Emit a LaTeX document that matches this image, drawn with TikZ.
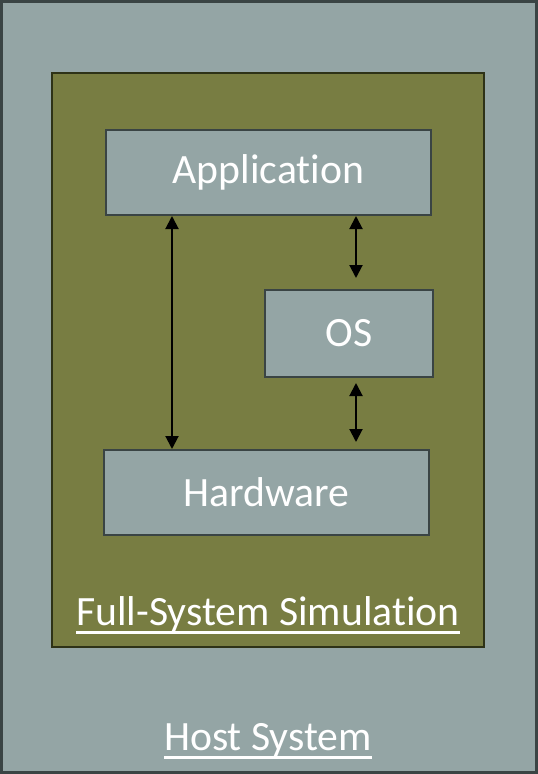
\documentclass[tikz,border=0pt]{standalone}
\usepackage{fontspec}
\setmainfont{Carlito}[Ligatures=NoCommon]
\usetikzlibrary{positioning}
\usetikzlibrary{arrows.meta}
\definecolor{hostgray}{HTML}{94A5A5}
\definecolor{simolive}{HTML}{787D42}
\definecolor{edgegray}{HTML}{3A4444}
\definecolor{edgeolive}{HTML}{2E3217}
\newcommand{\thickul}[1]{\setbox0\hbox{#1}\leavevmode\rlap{\raisebox{-9pt}{\rule{\wd0}{3pt}}}\box0}

\begin{document}
\begin{tikzpicture}[x=1pt, y=-1pt,
        layer/.style={draw=edgegray, line width=2pt, fill=hostgray, text=white,
                      minimum width=325pt, minimum height=85pt, inner sep=0pt,
                      font=\fontsize{41.7}{50}\selectfont},
        caption/.style={text=white, anchor=base, inner sep=0pt,
                        font=\fontsize{41.7}{50}\selectfont},
        link/.style={{Triangle[width=13pt,length=13pt]}-{Triangle[width=13pt,length=13pt]},
                     line width=2pt, black}]
    \useasboundingbox (0,0) rectangle (538,774);
    \node[draw=edgegray, line width=3pt, fill=hostgray, inner sep=0pt,
          minimum width=535pt, minimum height=771pt] (host) at (269,387) {};
    \node[draw=edgeolive, line width=2pt, fill=simolive, inner sep=0pt,
          minimum width=432pt, minimum height=574pt] (sim) at (268,360) {};
    \node[layer] (app) at (268.5,172.5) {Application};
    \node[layer, minimum width=168pt, minimum height=87pt] (os) at (349,333.5) {OS};
    \node[layer] (hw) at (266.5,492.5) {Hardware};
    \node[caption] (simlabel) at (268,625) {\thickul{Full-System Simulation}};
    \node[caption] (hostlabel) at (268,750) {\thickul{Host System}};
    % calls between the layers
    \draw[link] (app.south -| 172,0) -- (hw.north -| 172,0);
    \draw[link, shorten >=11pt] (app.south -| 356,0) -- (os.north -| 356,0);
    \draw[link, shorten <=5pt, shorten >=7pt] (os.south -| 356,0) -- (hw.north -| 356,0);
\end{tikzpicture}
\end{document}
